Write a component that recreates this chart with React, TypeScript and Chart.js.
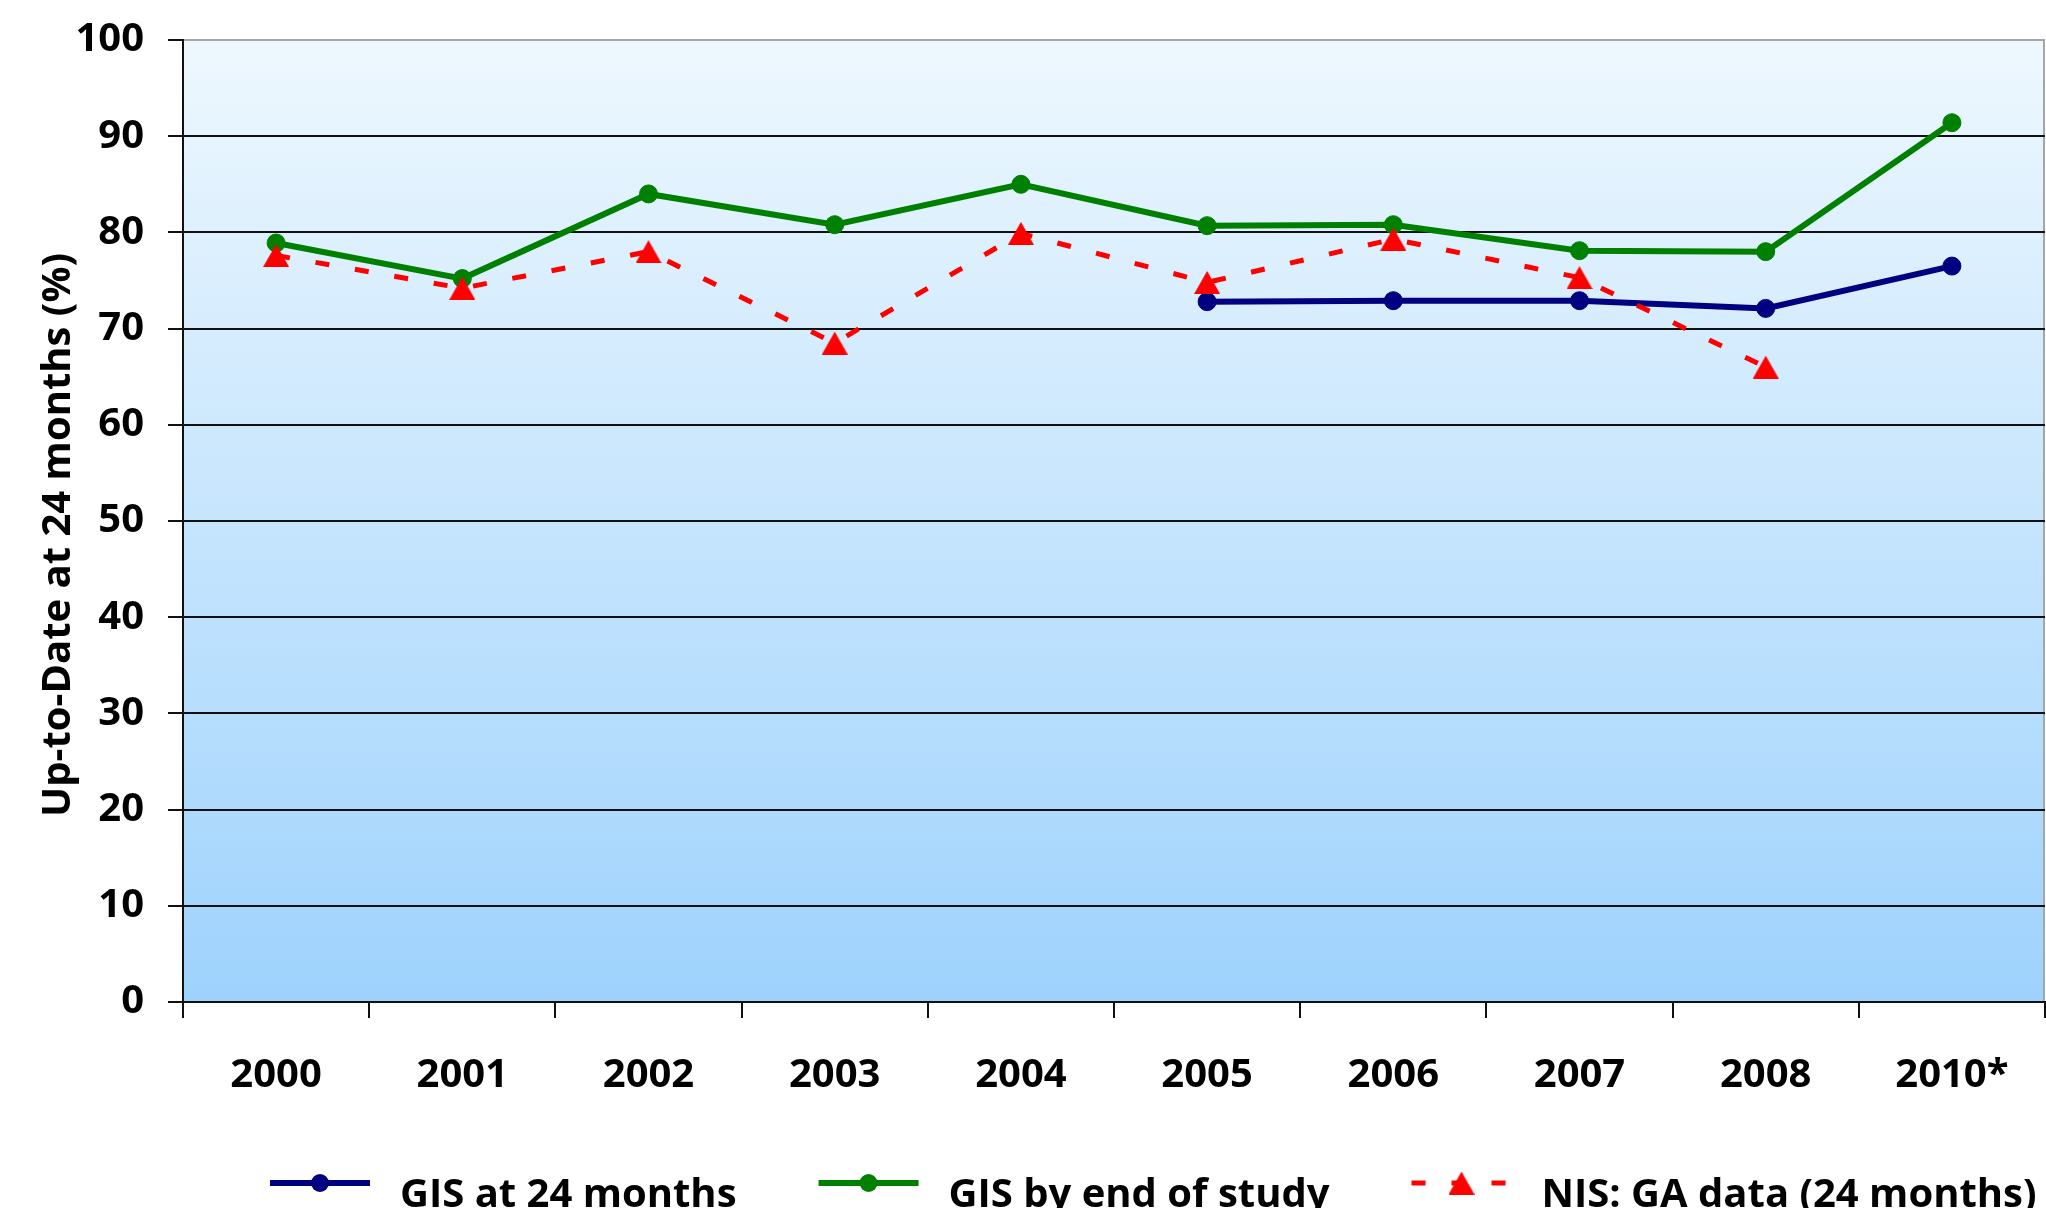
import { useEffect, useRef } from 'react';
import { Chart, registerables } from 'chart.js';

Chart.register(...registerables);

const FONT = "'Open Sans', 'DejaVu Sans', sans-serif";

// Survey years shown on the category axis
const categories = ['2000', '2001', '2002', '2003', '2004', '2005', '2006', '2007', '2008', '2010*'];

// Percent up-to-date at 24 months, per survey year
const gisAt24Months = [null, null, null, null, null, 72.8, 72.9, 72.9, 72.1, 76.5];
const gisByEndOfStudy = [78.9, 75.2, 84.0, 80.8, 85.0, 80.7, 80.8, 78.1, 78.0, 91.4];
const nisGaData = [77.6, 74.2, 78.0, 68.5, 79.9, 74.8, 79.3, 75.3, 66.0, null];

const seriesLabels = ['GIS at 24 months', 'GIS by end of study', 'NIS: GA data (24 months)'];
const axisTitle = 'Up-to-Date at 24 months (%)';

function makeTriangle(color: string, w: number, h: number): HTMLCanvasElement {
  const c = document.createElement('canvas');
  c.width = w;
  c.height = h;
  const g = c.getContext('2d') as CanvasRenderingContext2D;
  g.fillStyle = color;
  g.beginPath();
  g.moveTo(w / 2, 0);
  g.lineTo(w, h);
  g.lineTo(0, h);
  g.closePath();
  g.fill();
  return c;
}

// Scales should not push the plot area inward for overhanging labels
const noScalePadding = (s: any) => {
  s.paddingLeft = 0;
  s.paddingRight = 0;
  s.paddingTop = 0;
  s.paddingBottom = 0;
};

// Vertical gradient behind the plot, plus a light right-hand frame edge
const plotBackground = {
  id: 'plotBackground',
  beforeDraw(chart: any) {
    const { ctx, chartArea: a } = chart;
    const grad = ctx.createLinearGradient(0, a.top, 0, a.bottom);
    grad.addColorStop(0, '#EEF8FE');
    grad.addColorStop(1, '#9ED2FD');
    ctx.save();
    ctx.fillStyle = grad;
    ctx.fillRect(a.left, a.top, a.right - a.left, a.bottom - a.top);
    ctx.strokeStyle = '#A6A6A6';
    ctx.lineWidth = 2;
    ctx.beginPath();
    ctx.moveTo(a.right - 1, a.top);
    ctx.lineTo(a.right - 1, a.bottom);
    ctx.stroke();
    ctx.restore();
  },
};

// Rotated y-axis title, centred a little below the plot's middle
const axisTitlePlugin = {
  id: 'axisTitlePlugin',
  afterDraw(chart: any) {
    const { ctx, chartArea: a } = chart;
    ctx.save();
    ctx.translate(59, (a.top + a.bottom) / 2 + 14);
    ctx.rotate(-Math.PI / 2);
    ctx.font = `bold 40px ${FONT}`;
    ctx.fillStyle = '#000';
    ctx.textAlign = 'center';
    ctx.textBaseline = 'middle';
    ctx.fillText(axisTitle, 0, 0);
    ctx.restore();
  },
};

// Legend row along the bottom: line sample with marker, then label
const lineLegend = {
  id: 'lineLegend',
  afterDraw(chart: any) {
    const { ctx, chartArea: a } = chart;
    const sampleW = 100;
    const sampleGap = 30;
    const itemGap = 82;
    const lineY = chart.height - 25;
    const textY = chart.height - 1;
    let x = a.left + 87;
    ctx.save();
    ctx.font = `bold 40px ${FONT}`;
    chart.data.datasets.forEach((ds: any) => {
      ctx.save();
      ctx.strokeStyle = ds.borderColor;
      ctx.lineWidth = ds.borderWidth;
      ctx.setLineDash(ds.borderDash || []);
      ctx.lineCap = 'butt';
      ctx.beginPath();
      ctx.moveTo(x, lineY);
      ctx.lineTo(x + sampleW, lineY);
      ctx.stroke();
      ctx.setLineDash([]);
      const cx = x + sampleW / 2;
      if (ds.pointStyle instanceof HTMLCanvasElement) {
        const img = ds.pointStyle as HTMLCanvasElement;
        ctx.drawImage(img, cx - img.width / 2, lineY - img.height / 2);
      } else {
        ctx.fillStyle = ds.pointBackgroundColor;
        ctx.beginPath();
        ctx.arc(cx, lineY, ds.pointRadius, 0, Math.PI * 2);
        ctx.fill();
      }
      ctx.restore();
      x += sampleW + sampleGap;
      ctx.fillStyle = '#000';
      ctx.textBaseline = 'alphabetic';
      ctx.textAlign = 'left';
      ctx.fillText(ds.label, x, textY);
      x += ctx.measureText(ds.label).width + itemGap;
    });
    ctx.restore();
  },
};

export default function App() {
  const canvasRef = useRef<HTMLCanvasElement | null>(null);

  useEffect(() => {
    document.body.style.margin = '0';
    const canvas = canvasRef.current;
    if (!canvas) return;
    const triangle = makeTriangle('#FF0000', 26, 23);

    const chart = new Chart(canvas, {
      type: 'line',
      data: {
        labels: categories,
        datasets: [
          {
            label: seriesLabels[0],
            data: gisAt24Months,
            borderColor: '#000080',
            backgroundColor: '#000080',
            pointBackgroundColor: '#000080',
            pointBorderColor: '#000080',
            borderWidth: 6,
            pointRadius: 9,
            pointBorderWidth: 1,
            pointStyle: 'circle',
            tension: 0,
            order: 2,
          },
          {
            label: seriesLabels[1],
            data: gisByEndOfStudy,
            borderColor: '#008000',
            backgroundColor: '#008000',
            pointBackgroundColor: '#008000',
            pointBorderColor: '#008000',
            borderWidth: 6,
            pointRadius: 9,
            pointBorderWidth: 1,
            pointStyle: 'circle',
            tension: 0,
            order: 1,
          },
          {
            label: seriesLabels[2],
            data: nisGaData,
            borderColor: '#FF0000',
            backgroundColor: '#FF0000',
            pointBackgroundColor: '#FF0000',
            borderWidth: 5,
            borderDash: [14, 26],
            borderCapStyle: 'butt',
            pointRadius: 13,
            pointStyle: triangle,
            tension: 0,
            order: 0,
          },
        ] as any,
      },
      options: {
        responsive: false,
        animation: false,
        devicePixelRatio: 1,
        spanGaps: false,
        layout: { autoPadding: false, padding: { top: 40, right: 1, left: 0, bottom: 0 } },
        plugins: {
          legend: { display: false },
          tooltip: { enabled: false },
        },
        scales: {
          x: {
            type: 'category',
            offset: true,
            grid: {
              offset: true,
              drawOnChartArea: false,
              drawTicks: true,
              tickLength: 16,
              color: '#111',
              lineWidth: 2,
            },
            border: { display: true, color: '#111', width: 2 },
            ticks: {
              color: '#000',
              font: { family: FONT, size: 40, weight: 'bold' },
              padding: 34,
              maxRotation: 0,
              autoSkip: false,
            },
            afterFit: (s: any) => {
              s.height = 206;
              noScalePadding(s);
            },
          },
          y: {
            min: 0,
            max: 100,
            ticks: {
              stepSize: 10,
              color: '#000',
              font: { family: FONT, size: 40, weight: 'bold' },
              padding: 24,
            },
            grid: {
              color: (c: any) => (c.tick && c.tick.value === 100 ? '#A6A6A6' : '#111'),
              tickColor: '#111',
              lineWidth: 2,
              tickLength: 15,
            },
            border: { display: true, color: '#111', width: 2 },
            afterFit: (s: any) => {
              s.width = 183;
              noScalePadding(s);
            },
          },
        },
      } as any,
      plugins: [plotBackground, axisTitlePlugin, lineLegend],
    });

    return () => {
      chart.destroy();
    };
  }, []);

  return (
    <div style={{ width: 2046, height: 1208, overflow: 'hidden' }}>
      <canvas ref={canvasRef} width={2046} height={1208} style={{ display: 'block' }} />
    </div>
  );
}
